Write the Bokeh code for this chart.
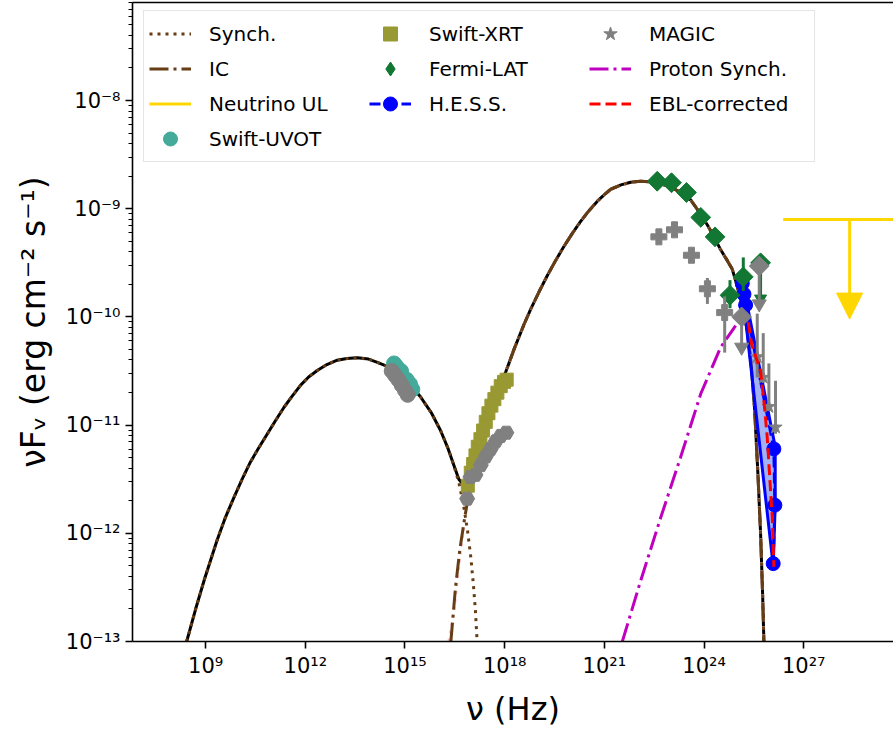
import numpy as np
from bokeh.plotting import figure
from bokeh.models import (Range1d, FixedTicker, LogAxis, Legend, LegendItem, Arrow, NormalHead)
from bokeh.embed import file_html
from bokeh.resources import INLINE

# ---------------- data (log10 values) ----------------
x_ticks = [1e9, 1e12, 1e15, 1e18, 1e21, 1e24, 1e27]
x_labels = ["10⁹", "10¹²", "10¹⁵", "10¹⁸", "10²¹", "10²⁴", "10²⁷"]
y_ticks = [1e-13, 1e-12, 1e-11, 1e-10, 1e-9, 1e-8]
y_labels = ["10⁻¹³", "10⁻¹²", "10⁻¹¹", "10⁻¹⁰", "10⁻⁹", "10⁻⁸"]

# synchrotron component (brown dotted)
syn_lognu = [8.43, 8.70, 8.97, 9.35, 9.60, 9.85, 10.10, 10.35, 10.60, 10.86, 11.10, 11.36, 11.60,
             11.86, 12.10, 12.36, 12.65, 12.96, 13.25, 13.57, 13.90, 14.17, 14.57, 15.0, 15.47,
             15.8, 16.07, 16.30, 16.47, 16.62, 16.75, 16.88, 16.98, 17.06, 17.12, 17.17]
syn_logF = [-13.0, -12.70, -12.42, -12.06, -11.85, -11.67, -11.50, -11.34, -11.21, -11.08, -10.96,
            -10.835, -10.735, -10.63, -10.555, -10.495, -10.44, -10.40, -10.385, -10.378, -10.39,
            -10.42, -10.47, -10.57, -10.74, -10.89, -11.05, -11.22, -11.37, -11.53, -11.72,
            -11.97, -12.22, -12.48, -12.72, -13.0]

# inverse-Compton hump above the X-ray valley (shared by IC, total and pink curves)
ich_lognu = [17.30, 17.60, 17.80, 18.03, 18.28, 18.58, 18.78, 19.03, 19.28, 19.53, 19.78, 20.03,
             20.28, 20.53, 20.79, 21.00, 21.19, 21.50, 21.79, 22.09, 22.35, 22.60, 23.00, 23.30,
             23.60, 23.85, 24.10, 24.30, 24.50, 24.70, 24.85, 25.00, 25.15, 25.30, 25.42, 25.52,
             25.62, 25.70, 25.76, 25.80]
ich_logF = [-11.12, -10.82, -10.66, -10.51, -10.30, -10.07, -9.93, -9.77, -9.62, -9.48, -9.35,
            -9.23, -9.12, -9.02, -8.93, -8.87, -8.82, -8.78, -8.755, -8.746, -8.75, -8.76, -8.80,
            -8.85, -8.92, -9.03, -9.15, -9.26, -9.38, -9.48, -9.56, -9.72, -9.90, -10.12, -10.45,
            -10.85, -11.45, -12.0, -12.55, -13.0]

ic_low_lognu = [16.38, 16.52, 16.65, 16.80, 17.00]
ic_low_logF = [-13.0, -12.50, -12.15, -11.85, -11.50]
pink_low_lognu = [16.32, 16.47, 16.62, 16.80, 17.00]
pink_low_logF = [-13.0, -12.73, -12.30, -11.85, -11.50]
valley_lognu = [16.62, 16.75, 16.85, 16.95, 17.05]
valley_logF = [-11.50, -11.55, -11.58, -11.50, -11.38]

psyn_lognu = [21.54, 22.09, 22.70, 23.29, 23.90, 24.50, 24.95]
psyn_logF = [-13.0, -12.44, -11.85, -11.30, -10.71, -10.28, -10.08]

uvot_lognu = [14.67, 14.75, 14.88, 15.05, 15.15, 15.22]
uvot_logF = [-10.43, -10.46, -10.50, -10.58, -10.62, -10.67]

optg_lognu = [14.60, 14.70, 14.80, 14.90, 15.00, 15.08]
optg_logF = [-10.50, -10.54, -10.58, -10.63, -10.68, -10.72]

xrt_lognu = [16.89, 16.98, 17.05, 17.12, 17.19, 17.27, 17.35, 17.43, 17.51, 17.60, 17.69, 17.78,
             17.88, 17.98, 18.06]
xrt_logF = [-11.56, -11.44, -11.36, -11.28, -11.20, -11.13, -11.05, -10.97, -10.89, -10.82,
            -10.76, -10.70, -10.64, -10.60, -10.58]

xg_lognu = [16.87, 16.97, 17.12, 17.28, 17.43, 17.58, 17.73, 17.88, 18.05]
xg_logF = [-11.68, -11.48, -11.46, -11.37, -11.29, -11.22, -11.15, -11.10, -11.07]

fermi_lognu = [22.59, 23.02, 23.47, 23.90, 24.33, 24.78, 25.18]
fermi_logF = [-8.746, -8.76, -8.85, -9.08, -9.26, -9.80, -9.63]
fermi_loF = [-8.78, -8.79, -8.88, -9.12, -9.31, -9.92, -9.76]
fermi_hiF = [-8.71, -8.73, -8.82, -9.04, -9.21, -9.66, -9.45]
fermi_ul_lognu = [25.70]
fermi_ul_logF = [-9.50]
fermi_ul_end = [-9.83]

gp_lognu = [22.64, 23.11, 23.62, 24.10, 24.62]
gp_logF = [-9.26, -9.195, -9.43, -9.74, -9.96]
gp_loF = [-9.30, -9.23, -9.47, -9.88, -10.33]
gp_hiF = [-9.22, -9.16, -9.39, -9.64, -9.81]

gd_lognu = [25.13, 25.66]
gd_logF = [-10.00, -9.53]
gd_end = [-10.28, -9.88]

magic_lognu = [25.60, 25.78, 25.95, 26.15]
magic_logF = [-10.37, -10.56, -10.83, -11.02]
magic_loF = [-10.56, -10.61, -10.87, -11.08]
magic_hiF = [-9.97, -10.15, -10.43, -10.59]

hess_lognu = [25.15, 25.20, 25.25, 26.10, 26.13, 26.08]
hess_logF = [-9.69, -9.79, -9.89, -11.22, -11.74, -12.28]
band_lognu = [25.13, 25.24, 26.14, 26.14, 26.08]
band_logF = [-9.70, -9.80, -11.20, -11.74, -12.30]

ebl_lognu = [25.33, 25.43, 25.70, 25.83, 25.90, 26.05, 26.10]
ebl_logF = [-10.05, -10.25, -10.50, -10.87, -11.11, -11.85, -12.31]

nu_ul_lognu = [26.38, 30.5]
nu_ul_logF = [-9.10, -9.10]
nu_arrow_lognu = 28.38
nu_arrow_end = -10.02

# ---------------- assembled model curves ----------------
ic_lognu = ic_low_lognu + ich_lognu
ic_logF = ic_low_logF + ich_logF
pink_lognu = pink_low_lognu + ich_lognu
pink_logF = pink_low_logF + ich_logF
n_syn = syn_lognu.index(16.47) + 1
tot_lognu = syn_lognu[:n_syn] + valley_lognu + ich_lognu
tot_logF = syn_logF[:n_syn] + valley_logF + ich_logF

# ---------------- styles ----------------
BROWN = "#663d14"
FONT = "DejaVu Sans"


def L(a):
    return np.power(10.0, np.array(a, dtype=float))


p = figure(frame_width=761, frame_height=639, x_axis_type="log", y_axis_type="log",
           x_range=Range1d(10 ** 6.80, 10 ** 29.70), y_range=Range1d(1e-13, 10 ** -7.094),
           output_backend="svg", toolbar_location=None, title=None,
           min_border_left=132, min_border_bottom=90, min_border_top=2, min_border_right=0)
p.outline_line_color = None
p.xgrid.visible = False
p.ygrid.visible = False

# axes
p.xaxis.ticker = FixedTicker(ticks=x_ticks, minor_ticks=[])
p.xaxis.major_label_overrides = dict(zip(x_ticks, x_labels))
p.yaxis.ticker = FixedTicker(ticks=y_ticks,
                             minor_ticks=[m * 10.0 ** e for e in range(-14, -7) for m in range(2, 10)])
p.yaxis.major_label_overrides = dict(zip(y_ticks, y_labels))
for ax in (p.xaxis[0], p.yaxis[0]):
    ax.axis_line_width = 1.6
    ax.major_tick_out = 7
    ax.major_tick_in = 0
    ax.minor_tick_out = 4
    ax.minor_tick_in = 0
    ax.major_tick_line_width = 1.6
    ax.minor_tick_line_width = 1.2
    ax.major_label_text_font = FONT
    ax.major_label_text_font_size = "21px"
    ax.major_label_text_color = "black"
    ax.major_label_standoff = 5
    ax.axis_label_text_font = FONT
    ax.axis_label_text_font_style = "normal"
    ax.axis_label_text_color = "black"
p.xaxis.axis_label = "ν (Hz)"
p.yaxis.axis_label = "νFᵥ (erg cm⁻² s⁻¹)"
p.xaxis.axis_label_text_font_size = "32px"
p.yaxis.axis_label_text_font_size = "33px"
p.xaxis.axis_label_standoff = 9
p.yaxis.axis_label_standoff = 10

top = LogAxis(ticker=FixedTicker(ticks=[]), major_label_text_font_size="0px",
              major_tick_out=0, major_tick_in=0, minor_tick_out=0, minor_tick_in=0,
              axis_line_width=1.6)
p.add_layout(top, "above")

# model curves
r_tot = p.line(L(tot_lognu), L(tot_logF), color="black", line_width=3)
r_pink = p.line(L(pink_lognu), L(pink_logF), color="pink", line_width=3, line_dash="3 5")
r_syn = p.line(L(syn_lognu), L(syn_logF), color=BROWN, line_width=3, line_dash="3 5")
r_ic = p.line(L(ic_lognu), L(ic_logF), color=BROWN, line_width=3, line_dash="19 5 3 5")
r_psyn = p.line(L(psyn_lognu), L(psyn_logF), color="#bf00bf", line_width=3, line_dash="19 5 3 5")

# neutrino UL
r_nu = p.line(L(nu_ul_lognu), L(nu_ul_logF), color="gold", line_width=3)
p.add_layout(Arrow(x_start=10 ** nu_arrow_lognu, y_start=10 ** nu_ul_logF[0],
                   x_end=10 ** nu_arrow_lognu, y_end=10 ** nu_arrow_end,
                   line_color="gold", line_width=3,
                   end=NormalHead(size=26, fill_color="gold", line_color="gold")))

# optical / UV
r_uvot = p.scatter(L(uvot_lognu), L(uvot_logF), marker="circle", size=15, color="#44AA99")
p.scatter(L(optg_lognu), L(optg_logF), marker="circle", size=15, color="gray")

# X-ray
r_xrt = p.scatter(L(xrt_lognu), L(xrt_logF), marker="square", size=13, color="#999933")
p.scatter(L(xg_lognu), L(xg_logF), marker="hex", size=15, color="gray")

# HESS
p.patch(L(band_lognu), L(band_logF), fill_color="#3355ee", fill_alpha=0.45, line_color="blue",
        line_width=3)
r_hess_l = p.line(L(hess_lognu), L(hess_logF), color="blue", line_width=3, line_dash="11 5")
r_hess_m = p.scatter(L(hess_lognu), L(hess_logF), marker="circle", size=14, color="blue")

# Fermi
p.segment(L(fermi_lognu), L(fermi_loF), L(fermi_lognu), L(fermi_hiF), color="#117733", line_width=3)
r_fermi_leg = p.scatter(L(fermi_lognu[:1]), L(fermi_logF[:1]), marker="diamond", size=8,
                        color="#117733")
p.scatter(L(fermi_lognu), L(fermi_logF), marker="square", angle=np.pi / 4, size=14,
          color="#117733")
p.segment(L(fermi_ul_lognu), L(fermi_ul_logF), L(fermi_ul_lognu), L(fermi_ul_end), color="#117733",
          line_width=3)
p.scatter(L(fermi_ul_lognu), L(fermi_ul_end), marker="inverted_triangle", size=12, color="#117733")
p.scatter(L(fermi_ul_lognu), L(fermi_ul_logF), marker="square", angle=np.pi / 4, size=14,
          color="#117733")

# gray archival gamma-ray
p.segment(L(gp_lognu), L(gp_loF), L(gp_lognu), L(gp_hiF), color="gray", line_width=3)
p.scatter(L(gp_lognu), L(gp_logF), marker="plus", size=16, color="gray")
p.segment(L(gd_lognu), L(gd_logF), L(gd_lognu), L(gd_end), color="gray", line_width=3)
p.scatter(L(gd_lognu), L(gd_end), marker="inverted_triangle", size=14, color="gray")
p.scatter(L(gd_lognu), L(gd_logF), marker="square", angle=np.pi / 4, size=14, color="gray")

# MAGIC
p.segment(L(magic_lognu), L(magic_loF), L(magic_lognu), L(magic_hiF), color="gray", line_width=3)
r_magic = p.scatter(L(magic_lognu), L(magic_logF), marker="star", size=14, color="gray")

# EBL corrected
r_ebl = p.line(L(ebl_lognu), L(ebl_logF), color="red", line_width=3, line_dash="11 5")

legend = Legend(items=[
    LegendItem(label="Synch.", renderers=[r_syn]),
    LegendItem(label="Swift-XRT", renderers=[r_xrt]),
    LegendItem(label="MAGIC", renderers=[r_magic]),
    LegendItem(label="IC", renderers=[r_ic]),
    LegendItem(label="Fermi-LAT", renderers=[r_fermi_leg]),
    LegendItem(label="Proton Synch.", renderers=[r_psyn]),
    LegendItem(label="Neutrino UL", renderers=[r_nu]),
    LegendItem(label="H.E.S.S.", renderers=[r_hess_l, r_hess_m]),
    LegendItem(label="EBL-corrected", renderers=[r_ebl]),
    LegendItem(label="Swift-UVOT", renderers=[r_uvot]),
], orientation="horizontal", ncols=3, location=(11, 479), margin=0, padding=5, spacing=0,
    glyph_width=42, glyph_height=35, label_standoff=18, label_width=160, label_height=35,
    label_text_font=FONT, label_text_font_size="20px", label_text_color="black",
    border_line_color="#cccccc", border_line_width=1.5, background_fill_color="white",
    background_fill_alpha=0.8)
p.add_layout(legend, "center")

open("out.html", "w").write(file_html(p, INLINE))
